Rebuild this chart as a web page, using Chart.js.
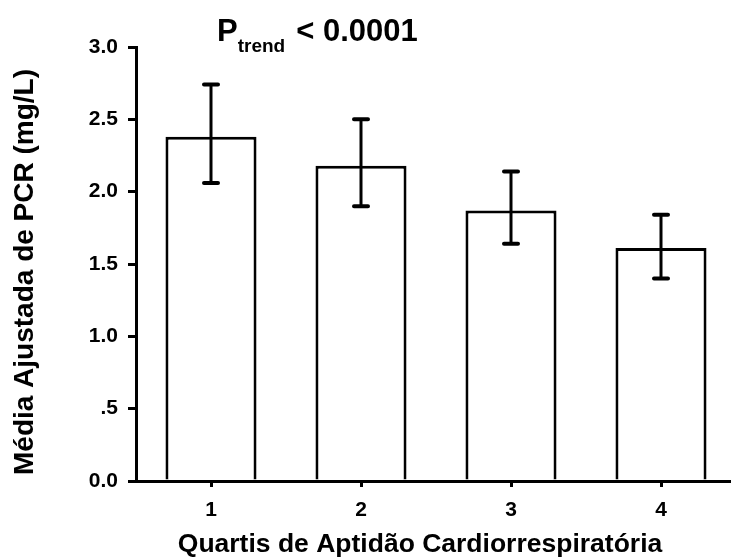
<!DOCTYPE html>
<html>
<head>
<meta charset="utf-8">
<script src="https://cdn.jsdelivr.net/npm/chart.js@4"></script>
<style>
  html, body { margin: 0; padding: 0; background: #fff; overflow: hidden; }
  #wrap { width: 736px; height: 557px; position: relative; }
</style>
</head>
<body>
<div id="wrap"><canvas id="pcrChart"></canvas></div>
<script>
const quartis = ['1', '2', '3', '4'];
const mediaPCR = [2.38, 2.18, 1.87, 1.61];
const erroSup = [2.74, 2.50, 2.14, 1.84];
const erroInf = [2.06, 1.90, 1.64, 1.40];
const yTickLabels = ['0.0', '.5', '1.0', '1.5', '2.0', '2.5', '3.0'];
const tituloX = 'Quartis de Aptidão Cardiorrespiratória';
const tituloY = 'Média Ajustada de PCR (mg/L)';

const fonte = '"Liberation Sans", Arial, sans-serif';

// barras de erro desenhadas por cima das barras
const errorBars = {
  id: 'errorBars',
  afterDatasetsDraw(chart) {
    const ctx = chart.ctx;
    const y = chart.scales.y;
    const meta = chart.getDatasetMeta(0);
    ctx.save();
    ctx.strokeStyle = '#000';
    meta.data.forEach((bar, i) => {
      const top = y.getPixelForValue(erroSup[i]);
      const bot = y.getPixelForValue(erroInf[i]);
      ctx.lineWidth = 3;
      ctx.lineCap = 'butt';
      ctx.beginPath();
      ctx.moveTo(bar.x, top);
      ctx.lineTo(bar.x, bot);
      ctx.stroke();
      ctx.lineWidth = 4;
      ctx.lineCap = 'round';
      ctx.beginPath();
      ctx.moveTo(bar.x - 7, top);
      ctx.lineTo(bar.x + 7, top);
      ctx.moveTo(bar.x - 7, bot);
      ctx.lineTo(bar.x + 7, bot);
      ctx.stroke();
    });
    ctx.restore();
  }
};

// titulo com subscrito + titulos dos eixos
const textos = {
  id: 'textos',
  afterDraw(chart) {
    const ctx = chart.ctx;
    ctx.save();
    ctx.fillStyle = '#000';
    ctx.textBaseline = 'alphabetic';
    let x = 217;
    ctx.font = 'bold 31px ' + fonte;
    ctx.fillText('P', x, 41);
    x += ctx.measureText('P').width;
    ctx.font = 'bold 19px ' + fonte;
    ctx.fillText('trend', x, 52);
    x += ctx.measureText('trend').width + 11;
    ctx.font = 'bold 31px ' + fonte;
    ctx.fillText('< 0.0001', x, 41);

    ctx.font = 'bold 26.5px ' + fonte;
    ctx.textAlign = 'center';
    ctx.fillText(tituloX, 420, 552);

    ctx.translate(25, 272);
    ctx.rotate(-Math.PI / 2);
    ctx.textBaseline = 'middle';
    ctx.font = 'bold 28px ' + fonte;
    ctx.fillText(tituloY, 0, 0);
    ctx.restore();
  }
};

new Chart(document.getElementById('pcrChart'), {
  type: 'bar',
  data: {
    labels: quartis,
    datasets: [{
      data: mediaPCR,
      backgroundColor: '#fff',
      borderColor: '#000',
      borderWidth: 3,
      barPercentage: 0.607,
      categoryPercentage: 1
    }]
  },
  options: {
    responsive: true,
    maintainAspectRatio: false,
    animation: false,
    layout: { padding: { top: 47, left: 0, right: 0, bottom: 0 } },
    plugins: { legend: { display: false }, tooltip: { enabled: false } },
    scales: {
      x: {
        offset: true,
        grid: { offset: false, drawOnChartArea: false, drawTicks: true, tickLength: 6, color: '#000', lineWidth: 3 },
        border: { display: true, color: '#000', width: 3 },
        ticks: { color: '#000', padding: 11, font: { family: fonte, size: 21, weight: 'bold' } },
        afterFit(scale) { scale.height = 76; }
      },
      y: {
        min: 0,
        max: 3,
        ticks: {
          stepSize: 0.5,
          color: '#000',
          padding: 10,
          font: { family: fonte, size: 21, weight: 'bold' },
          callback: (v, i) => yTickLabels[i]
        },
        grid: { drawOnChartArea: false, drawTicks: true, tickLength: 8, color: '#000', lineWidth: 3 },
        border: { display: true, color: '#000', width: 3 },
        afterFit(scale) { scale.width = 136; }
      }
    }
  },
  plugins: [errorBars, textos]
});
</script>
</body>
</html>
